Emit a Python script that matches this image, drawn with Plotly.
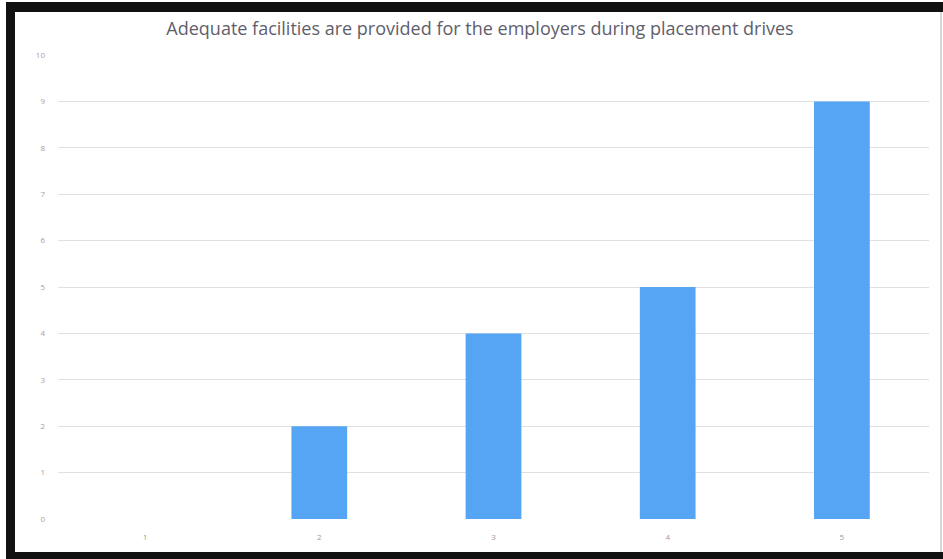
import plotly.graph_objects as go

categories = ["1", "2", "3", "4", "5"]
values = [0, 2, 4, 5, 9]
y_ticks = [0, 1, 2, 3, 4, 5, 6, 7, 8, 9, 10]
title_text = "Adequate facilities are provided for the employers during placement drives"

W, H = 943, 559
L, R, T, B = 58, 14, 55, 40
PW, PH = W - L - R, H - T - B


def px(xp):
    return (xp - L) / PW


def py(yp):
    return (H - B - yp) / PH


fig = go.Figure(
    go.Bar(
        x=categories,
        y=values,
        width=0.32,
        marker=dict(color="#55a5f4", line=dict(width=0)),
        hoverinfo="x+y",
    )
)

shapes = [
    # black frame (scanned border)
    dict(type="rect", xref="paper", yref="paper", x0=px(6), x1=px(15), y0=py(560), y1=py(2),
         fillcolor="#111111", line=dict(width=0), layer="above"),
    dict(type="rect", xref="paper", yref="paper", x0=px(6), x1=px(943), y0=py(12), y1=py(2),
         fillcolor="#111111", line=dict(width=0), layer="above"),
    dict(type="rect", xref="paper", yref="paper", x0=px(6), x1=px(943), y0=py(560), y1=py(552),
         fillcolor="#111111", line=dict(width=0), layer="above"),
    dict(type="line", xref="paper", yref="paper", x0=px(941), x1=px(941), y0=py(552), y1=py(12),
         line=dict(color="#c8c8c8", width=1.5), layer="above"),
]

fig.update_layout(
    width=W,
    height=H,
    margin=dict(l=L, r=R, t=T, b=B),
    paper_bgcolor="white",
    plot_bgcolor="white",
    showlegend=False,
    bargap=0.68,
    title=dict(
        text=title_text,
        x=px(480),
        xanchor="center",
        xref="paper",
        y=1 - 29 / H,
        yanchor="middle",
        font=dict(family="Open Sans", size=18, color="#5e5e6c"),
    ),
    xaxis=dict(
        type="category",
        showgrid=False,
        showline=False,
        ticks="",
        tickfont=dict(family="Open Sans", size=8, color="#9a9a9a"),
        ticklabelstandoff=12,
    ),
    yaxis=dict(
        range=[0, 10],
        tickvals=y_ticks,
        showgrid=True,
        gridcolor="#e0e0e0",
        gridwidth=1,
        zeroline=False,
        showline=False,
        ticks="",
        tickfont=dict(family="Open Sans", size=8, color="#b09aa0"),
        ticklabelstandoff=12,
    ),
    shapes=shapes,
)

fig.write_html(
    "out.html",
    config={"displayModeBar": False},
    post_script="document.body.style.margin='0px';document.body.style.overflow='hidden';",
)
